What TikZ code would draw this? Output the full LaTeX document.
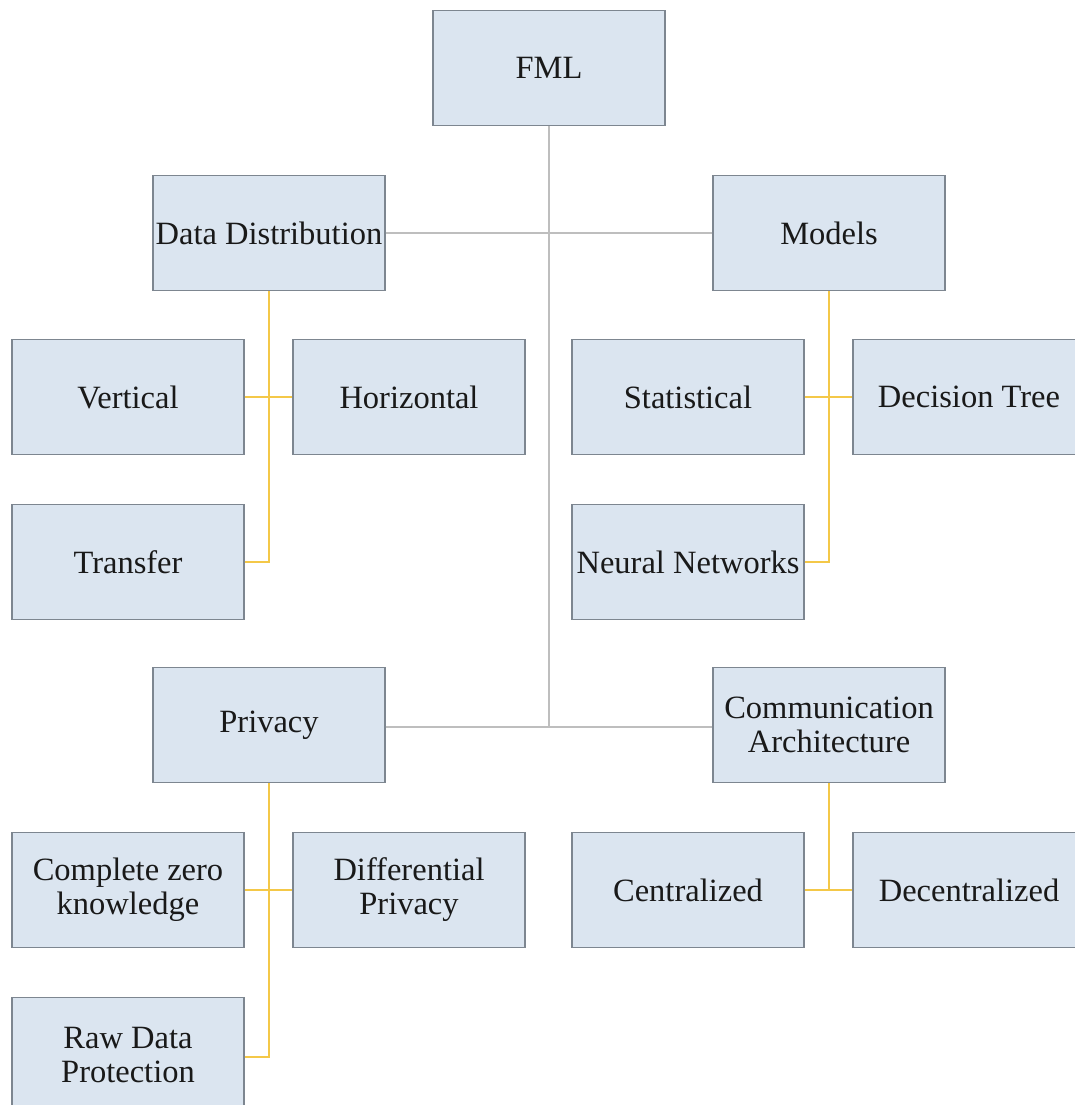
\documentclass[tikz,border=0pt]{standalone}
\usepackage{fontspec}
\setmainfont{Liberation Serif}
\begin{document}
\definecolor{boxfill}{RGB}{219,229,240}
\definecolor{boxline}{RGB}{125,134,144}
\definecolor{trunk}{RGB}{190,190,190}
\definecolor{branch}{RGB}{244,200,72}
\begin{tikzpicture}[x=1pt,y=-1pt,
  cat/.style={draw=boxline, line width=1.3pt, fill=boxfill, minimum width=232pt,
    minimum height=115pt, inner sep=0pt, align=center, text=black!90,
    font=\fontsize{32.5}{34}\selectfont},
  mainlink/.style={draw=trunk, line width=2pt},
  sublink/.style={draw=branch, line width=2pt}]
\useasboundingbox (0,0) rectangle (1075,1105);
\clip (0,0) rectangle (1075,1105);
\fill[white] (0,0) rectangle (1075,1105);

% free ends of the connectors
\coordinate (hub) at (549,727);
\coordinate (ddend) at (269,562);
\coordinate (mdend) at (829,562);
\coordinate (prend) at (269,1057);
\coordinate (caend) at (829,890);

% top level
\node[cat] (fml) at (549,68) {FML};
\node[cat] (dd) at (269,233) {Data Distribution};
\node[cat] (models) at (829,233) {Models};
\node[cat] (privacy) at (269,725) {Privacy};
\node[cat] (comm) at (829,725) {Communication\\Architecture};

% data distribution
\node[cat] (vertical) at (128,397) {Vertical};
\node[cat] (horizontal) at (409,397) {Horizontal};
\node[cat] (transfer) at (128,562) {Transfer};

% models
\node[cat] (statistical) at (688,397) {Statistical};
\node[cat] (dtree) at (969,397) {Decision Tree};
\node[cat] (neural) at (688,562) {Neural Networks};

% privacy
\node[cat] (czk) at (128,890) {Complete zero\\knowledge};
\node[cat] (dp) at (409,890) {Differential\\Privacy};
\node[cat] (raw) at (128,1055) {Raw Data\\Protection};

% communication architecture
\node[cat] (central) at (688,890) {Centralized};
\node[cat] (decentral) at (969,890) {Decentralized};

% trunk lines
\path[mainlink] (fml.south) -- (hub);
\path[mainlink] (dd.east) -- (models.west);
\path[mainlink] (privacy.east |- hub) -- (comm.west |- hub);

% branch lines
\path[sublink] (dd.south) -- (ddend) -- (transfer.east |- ddend);
\path[sublink] (vertical.east) -- (horizontal.west);
\path[sublink] (models.south) -- (mdend) -- (neural.east |- mdend);
\path[sublink] (statistical.east) -- (dtree.west);
\path[sublink] (privacy.south) -- (prend) -- (raw.east |- prend);
\path[sublink] (czk.east) -- (dp.west);
\path[sublink] (comm.south) -- (caend);
\path[sublink] (central.east) -- (decentral.west);
\end{tikzpicture}
\end{document}
